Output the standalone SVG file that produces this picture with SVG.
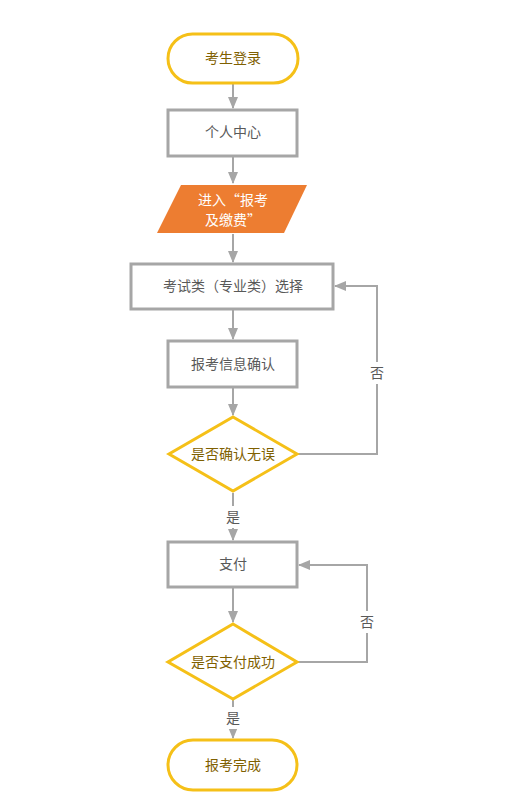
<svg xmlns="http://www.w3.org/2000/svg" width="519" height="811" viewBox="0 0 519 811">
<defs>
<style>
.term{fill:#fff;stroke:#f5c018;stroke-width:3}
.dec{fill:#fff;stroke:#f5c018;stroke-width:3}
.box{fill:#fff;stroke:#a6a6a6;stroke-width:3}
.io{fill:#ed7d31;stroke:none}
.ty{font-family:"Liberation Sans","Noto Sans CJK SC",sans-serif;font-size:14px;fill:#7f6000;text-anchor:middle;dominant-baseline:central}
.tg{font-family:"Liberation Sans","Noto Sans CJK SC",sans-serif;font-size:14px;fill:#595959;text-anchor:middle;dominant-baseline:central}
.tw{font-family:"Noto Sans CJK SC",sans-serif;font-size:14px;fill:#fff;text-anchor:middle;dominant-baseline:central}
.lbl{font-family:"Liberation Sans","Noto Sans CJK SC",sans-serif;font-size:14px;fill:#595959;text-anchor:middle;dominant-baseline:central}
.c{fill:none;stroke:#a6a6a6;stroke-width:2}
</style>
<marker id="ah" markerWidth="12" markerHeight="10" refX="11" refY="5" orient="auto" markerUnits="userSpaceOnUse">
<path d="M0,0 L12,5 L0,10 Z" fill="#a6a6a6"/>
</marker>
</defs>
<rect width="519" height="811" fill="#fff"/>
<g id="connectors">
<path class="c" d="M233,84 V108" marker-end="url(#ah)"/>
<path class="c" d="M233,157 V183" marker-end="url(#ah)"/>
<path class="c" d="M233,234 V262" marker-end="url(#ah)"/>
<path class="c" d="M233,310 V339" marker-end="url(#ah)"/>
<path class="c" d="M233,388 V415" marker-end="url(#ah)"/>
<path class="c" d="M298,454 H377 V286 H335" marker-end="url(#ah)"/>
<path class="c" d="M233,493 V540" marker-end="url(#ah)"/>
<path class="c" d="M233,588 V622" marker-end="url(#ah)"/>
<path class="c" d="M298,662 H367 V565 H299" marker-end="url(#ah)"/>
<path class="c" d="M233,700 V738" marker-end="url(#ah)"/>
<rect x="366" y="362" width="22" height="22" fill="#fff"/>
<text class="lbl" x="377" y="373">否</text>
<rect x="356" y="611" width="22" height="22" fill="#fff"/>
<text class="lbl" x="367" y="622">否</text>
<rect x="222" y="506" width="22" height="22" fill="#fff"/>
<text class="lbl" x="233" y="517">是</text>
<rect x="222" y="707" width="22" height="22" fill="#fff"/>
<text class="lbl" x="233" y="718">是</text>
</g>
<g id="start">
<rect class="term" x="168" y="34" width="130" height="49" rx="24.5"/>
<text class="ty" x="233" y="58">考生登录</text>
</g>
<g id="center">
<rect class="box" x="168" y="110" width="129" height="46"/>
<text class="tg" x="233" y="132">个人中心</text>
</g>
<g id="enter">
<polygon class="io" points="181,185 307,185 284,233 157,233"/>
<text class="tw" x="233" y="199">进入“报考</text>
<text class="tw" x="233" y="219">及缴费”</text>
</g>
<g id="select">
<rect class="box" x="131" y="264" width="202" height="45"/>
<text class="tg" x="233" y="286">考试类（专业类）选择</text>
</g>
<g id="confirm">
<rect class="box" x="168" y="341" width="129" height="46"/>
<text class="tg" x="233" y="364">报考信息确认</text>
</g>
<g id="check">
<polygon class="dec" points="233,417 297,454 233,491 169,454"/>
<text class="ty" x="233" y="454">是否确认无误</text>
</g>
<g id="pay">
<rect class="box" x="168" y="542" width="129" height="45"/>
<text class="tg" x="233" y="564">支付</text>
</g>
<g id="paycheck">
<polygon class="dec" points="233,624 297,662 233,699 168,662"/>
<text class="ty" x="233" y="662">是否支付成功</text>
</g>
<g id="end">
<rect class="term" x="168" y="740" width="129" height="50" rx="25"/>
<text class="ty" x="233" y="765">报考完成</text>
</g>
</svg>
